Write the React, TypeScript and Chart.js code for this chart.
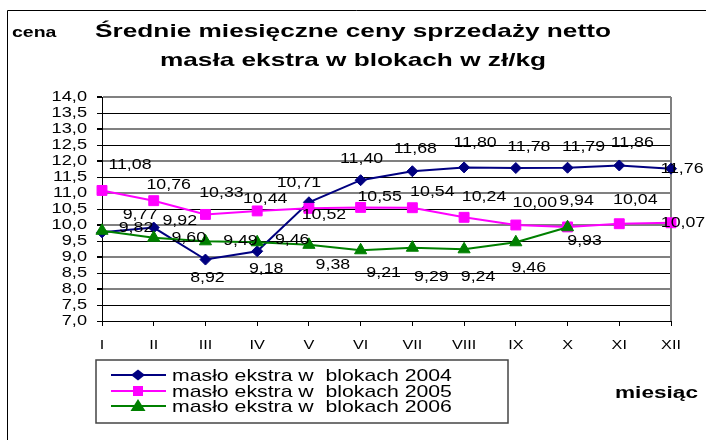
import React, { useEffect, useRef } from 'react';
import { Chart, registerables } from 'chart.js';

Chart.register(...registerables);

// ---------- data ----------
const months = ['I', 'II', 'III', 'IV', 'V', 'VI', 'VII', 'VIII', 'IX', 'X', 'XI', 'XII'];
const butter2004 = [9.77, 9.92, 8.92, 9.18, 10.71, 11.4, 11.68, 11.8, 11.78, 11.79, 11.86, 11.76];
const butter2005 = [11.08, 10.76, 10.33, 10.44, 10.52, 10.55, 10.54, 10.24, 10.0, 9.94, 10.04, 10.07];
const butter2006 = [9.82, 9.6, 9.49, 9.46, 9.38, 9.21, 9.29, 9.24, 9.46, 9.93, null, null];
const seriesNames = [
  'masło ekstra w  blokach 2004',
  'masło ekstra w  blokach 2005',
  'masło ekstra w  blokach 2006',
];
const titleLines = ['Średnie miesięczne ceny sprzedaży netto', 'masła ekstra w blokach w zł/kg'];
const yAxisTitle = 'cena';
const xAxisTitle = 'miesiąc';
const yMin = 7;
const yMax = 14;
const yStep = 0.5;

// data label offsets (dx, dy) relative to each point, as placed in the original
const offsets2004 = [[38, -17], [26, -6], [2, 19], [9, 18], [-10, -19], [1, -21], [3, -22], [11, -24], [13, -21], [16, -21], [13, -22], [11, 0]];
const offsets2005 = [[28, -25], [15, -16], [16, -21], [8, -12], [15, 7], [19, -10], [20, -16], [20, -20], [19, -22], [9, -26], [16, -24], [12, 0]];
const offsets2006 = [[34, -3], [35, 0], [35, 0], [35, -2], [24, 20], [23, 23], [19, 29], [14, 28], [13, 26], [17, 14], [0, 0], [0, 0]];

// ---------- styles ----------
const FONT = "'Liberation Sans', Arial, sans-serif";
const NAVY = '#000080';
const MAGENTA = '#FF00FF';
const GREEN = '#008000';
const seriesColors = [NAVY, MAGENTA, GREEN];
const seriesMarkers = ['diamond', 'square', 'triangle'];

function stretchText(
  ctx: CanvasRenderingContext2D,
  text: string,
  x: number,
  y: number,
  font: string,
  sx: number,
  align: CanvasTextAlign,
  baseline: CanvasTextBaseline = 'middle'
) {
  ctx.save();
  ctx.font = font;
  ctx.fillStyle = '#000';
  ctx.textAlign = align;
  ctx.textBaseline = baseline;
  ctx.translate(x, y);
  ctx.scale(sx, 1);
  ctx.fillText(text, 0, 0);
  ctx.restore();
}

function drawMarker(ctx: CanvasRenderingContext2D, kind: string, x: number, y: number, color: string) {
  ctx.save();
  ctx.fillStyle = color;
  ctx.beginPath();
  if (kind === 'diamond') {
    ctx.moveTo(x - 7, y);
    ctx.lineTo(x, y - 5.5);
    ctx.lineTo(x + 7, y);
    ctx.lineTo(x, y + 5.5);
  } else if (kind === 'square') {
    ctx.rect(x - 5, y - 5, 10, 10);
  } else {
    ctx.moveTo(x, y - 7);
    ctx.lineTo(x + 7.5, y + 5);
    ctx.lineTo(x - 7.5, y + 5);
  }
  ctx.closePath();
  ctx.fill();
  ctx.restore();
}

const fmt = (v: number, d: number) => v.toFixed(d).replace('.', ',');

const decorPlugin = {
  id: 'decor',
  beforeDraw(chart: any) {
    const ctx: CanvasRenderingContext2D = chart.ctx;
    ctx.save();
    ctx.fillStyle = '#fff';
    ctx.fillRect(0, 0, chart.width, chart.height);
    ctx.restore();
  },
  beforeDatasetsDraw(chart: any) {
    const ctx: CanvasRenderingContext2D = chart.ctx;
    const a = chart.chartArea;
    ctx.save();
    ctx.strokeStyle = '#808080';
    ctx.lineWidth = 2;
    ctx.beginPath();
    ctx.moveTo(a.right, a.top);
    ctx.lineTo(a.right, a.bottom);
    ctx.stroke();
    ctx.restore();
  },
  afterDraw(chart: any) {
    const ctx: CanvasRenderingContext2D = chart.ctx;
    const a = chart.chartArea;
    const xs = chart.scales.x;
    const ys = chart.scales.y;

    // outer frame
    ctx.save();
    ctx.strokeStyle = '#000';
    ctx.lineWidth = 1;
    ctx.beginPath();
    ctx.moveTo(7.5, chart.height);
    ctx.lineTo(7.5, 10.5);
    ctx.lineTo(chart.width, 10.5);
    ctx.stroke();
    ctx.restore();

    // title & axis titles
    const titleFont = `bold 19px ${FONT}`;
    stretchText(ctx, titleLines[0], 353, 37, titleFont, 1.38, 'center', 'alphabetic');
    stretchText(ctx, titleLines[1], 353, 66, titleFont, 1.38, 'center', 'alphabetic');
    stretchText(ctx, yAxisTitle, 12, 37, `bold 15px ${FONT}`, 1.3, 'left', 'alphabetic');
    stretchText(ctx, xAxisTitle, 615, 398, `bold 17px ${FONT}`, 1.33, 'left', 'alphabetic');

    // y tick labels
    ys.ticks.forEach((t: any) => {
      const y = ys.getPixelForValue(t.value);
      stretchText(ctx, fmt(t.value, 1), a.left - 15, y, `14px ${FONT}`, 1.3, 'right');
    });
    // x tick labels
    months.forEach((m, i) => {
      const x = xs.getPixelForTick(i);
      stretchText(ctx, m, x, a.bottom + 24, `13px ${FONT}`, 1.25, 'center');
    });

    // data labels
    const allValues = [butter2004, butter2005, butter2006];
    const allOffsets = [offsets2004, offsets2005, offsets2006];
    allValues.forEach((vals, di) => {
      const meta = chart.getDatasetMeta(di);
      vals.forEach((v, j) => {
        if (v === null || v === undefined) return;
        const el = meta.data[j];
        const [dx, dy] = allOffsets[di][j];
        stretchText(ctx, fmt(v, 2), el.x + dx, el.y + dy, `14px ${FONT}`, 1.27, 'center');
      });
    });

    // legend
    const lg = { left: 96, top: 360, right: 508, bottom: 423 };
    ctx.save();
    ctx.strokeStyle = '#444';
    ctx.lineWidth = 1.5;
    ctx.strokeRect(lg.left, lg.top, lg.right - lg.left, lg.bottom - lg.top);
    ctx.restore();
    const rowYs = [375, 391, 406];
    seriesNames.forEach((name, i) => {
      const y = rowYs[i];
      ctx.save();
      ctx.strokeStyle = seriesColors[i];
      ctx.lineWidth = 2;
      ctx.beginPath();
      ctx.moveTo(111, y);
      ctx.lineTo(166, y);
      ctx.stroke();
      ctx.restore();
      drawMarker(ctx, seriesMarkers[i], 138, y, seriesColors[i]);
      stretchText(ctx, name, 172, y + 1, `17px ${FONT}`, 1.25, 'left');
    });
  },
};

export default function App() {
  const canvasRef = useRef<HTMLCanvasElement | null>(null);

  useEffect(() => {
    if (!canvasRef.current) return;
    const chart = new Chart(canvasRef.current, {
      type: 'line',
      data: {
        labels: months,
        datasets: [
          {
            label: seriesNames[0],
            data: butter2004,
            borderColor: NAVY,
            backgroundColor: NAVY,
            borderWidth: 2,
            pointStyle: 'rectRot',
            pointRadius: 5.5,
            pointBackgroundColor: NAVY,
            pointBorderColor: NAVY,
            pointBorderWidth: 1,
            tension: 0,
            order: 3,
            clip: false,
          },
          {
            label: seriesNames[1],
            data: butter2005,
            borderColor: MAGENTA,
            backgroundColor: MAGENTA,
            borderWidth: 2,
            pointStyle: 'rect',
            pointRadius: 7,
            pointBackgroundColor: MAGENTA,
            pointBorderColor: MAGENTA,
            pointBorderWidth: 1,
            tension: 0,
            order: 2,
            clip: false,
          },
          {
            label: seriesNames[2],
            data: butter2006,
            borderColor: GREEN,
            backgroundColor: GREEN,
            borderWidth: 2,
            pointStyle: 'triangle',
            pointRadius: 7,
            pointBackgroundColor: GREEN,
            pointBorderColor: GREEN,
            pointBorderWidth: 1,
            tension: 0,
            order: 1,
            clip: false,
          },
        ],
      },
      options: {
        animation: false,
        responsive: false,
        devicePixelRatio: 1,
        events: [],
        layout: { padding: { left: 97, top: 97, right: 35, bottom: 114 } },
        plugins: {
          legend: { display: false },
          title: { display: false },
          tooltip: { enabled: false },
        },
        scales: {
          x: {
            type: 'category',
            offset: false,
            ticks: { display: false },
            grid: {
              display: true,
              drawOnChartArea: false,
              drawTicks: true,
              tickLength: 5,
              tickColor: '#000',
              color: '#000',
            },
            border: { display: true, color: '#000', width: 1 },
          },
          y: {
            min: yMin,
            max: yMax,
            ticks: { display: false, stepSize: yStep },
            grid: {
              drawTicks: true,
              tickLength: 5,
              tickColor: '#000',
              color: (c: any) =>
                c.tick && Number.isInteger(c.tick.value) && c.tick.value !== yMin ? '#808080' : '#000',
              lineWidth: (c: any) =>
                c.tick && Number.isInteger(c.tick.value) && c.tick.value !== yMin ? 2 : 1,
            },
            border: { display: true, color: '#000', width: 1 },
          },
        },
      },
      plugins: [decorPlugin],
    });
    return () => chart.destroy();
  }, []);

  return (
    <div style={{ position: 'absolute', left: 0, top: 0, width: 706, height: 440 }}>
      <canvas ref={canvasRef} width={706} height={440} style={{ display: 'block' }} />
    </div>
  );
}
